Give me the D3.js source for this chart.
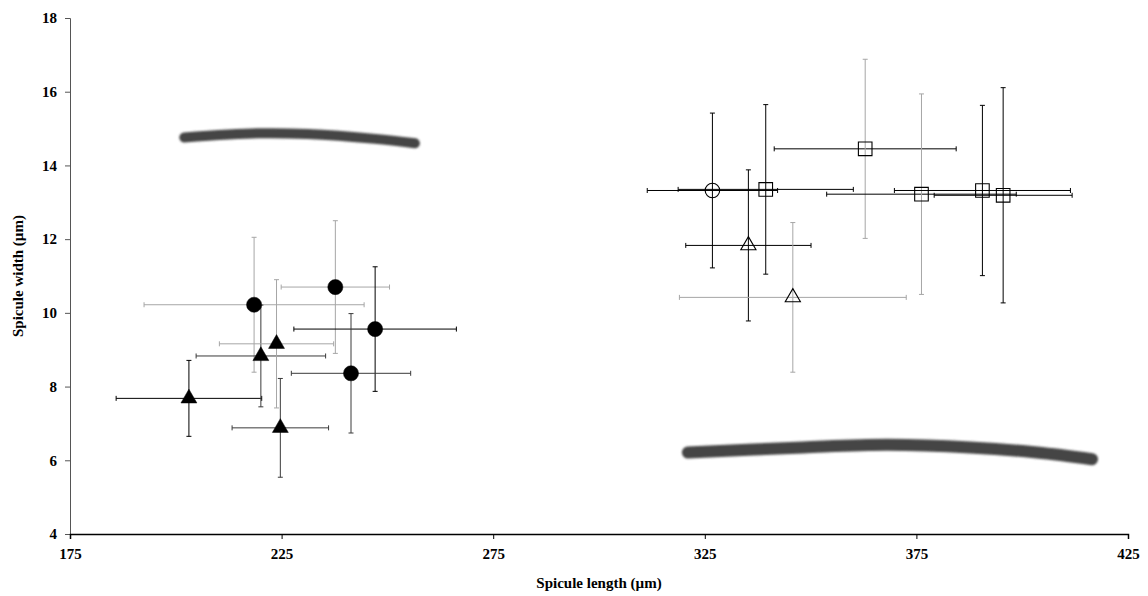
<!DOCTYPE html>
<html>
<head>
<meta charset="utf-8">
<script src="https://cdn.jsdelivr.net/npm/d3@7"></script>
<style>
	body { margin:0; background:#fff; }
	svg text { font-family:"Liberation Serif", "Times New Roman", serif; font-weight:bold; }
</style>
</head>
<body>
<svg id="chart" width="1148" height="596"></svg>
<script>

// tick values
var xTicks = [175, 225, 275, 325, 375, 425];
var yTicks = [4, 6, 8, 10, 12, 14, 16, 18];

// each point: x, y, x error, y error, batch (sets the error bar tone)
var filledCircles = [
	{x:218.5, y:10.22, xe:26.0, ye:1.83, batch:"b"},
	{x:237.7, y:10.70, xe:12.8, ye:1.80, batch:"b"},
	{x:247.1, y:9.56, xe:19.2, ye:1.69, batch:"a"},
	{x:241.4, y:8.36, xe:14.1, ye:1.62, batch:"c"}
];
var filledTriangles = [
	{x:203.1, y:7.68, xe:17.2, ye:1.03, batch:"a"},
	{x:220.1, y:8.83, xe:15.3, ye:1.38, batch:"c"},
	{x:223.8, y:9.16, xe:13.5, ye:1.74, batch:"b"},
	{x:224.7, y:6.88, xe:11.4, ye:1.34, batch:"c"}
];
var openCircles = [
	{x:326.8, y:13.32, xe:15.4, ye:2.10, batch:"a"}
];
var openTriangles = [
	{x:335.3, y:11.83, xe:14.8, ye:2.05, batch:"a"},
	{x:345.8, y:10.42, xe:26.8, ye:2.03, batch:"b"}
];
var openSquares = [
	{x:339.4, y:13.35, xe:20.7, ye:2.30, batch:"a"},
	{x:362.9, y:14.45, xe:21.5, ye:2.43, batch:"b", xbatch:"a"},
	{x:376.2, y:13.22, xe:22.4, ye:2.72, batch:"b", xbatch:"a"},
	{x:390.6, y:13.32, xe:20.8, ye:2.31, batch:"a"},
	{x:395.5, y:13.19, xe:16.3, ye:2.92, batch:"a"}
];

// spicule outlines traced in data units
var spiculeLong = [[202.0,14.76],[219.4,14.87],[231.2,14.85],[247.1,14.72],[256.5,14.60]];
var spiculeShort = [[321.0,6.21],[348.2,6.35],[368.1,6.42],[387.7,6.35],[403.5,6.21],[416.5,6.03]];

var svg = d3.select("#chart");
var margin = {left:70, right:20, top:18, bottom:62};
var W = 1148, H = 596;

var x = d3.scaleLinear().domain([175, 425]).range([margin.left, W - margin.right]);
var y = d3.scaleLinear().domain([4, 18]).range([H - margin.bottom, margin.top]);
var tone = d3.scaleOrdinal().domain(["a","b","c"]).range(["#000", "#a6a6a6", "#3a3a3a"]);

// spicule drawings
var spLine = d3.line()
	.x(function(d){ return x(d[0]); })
	.y(function(d){ return y(d[1]); })
	.curve(d3.curveCatmullRom);

var defs = svg.append("defs");
defs.append("filter").attr("id","soft")
	.attr("filterUnits","userSpaceOnUse")
	.attr("x",0).attr("y",0).attr("width",W).attr("height",H)
	.append("feGaussianBlur").attr("stdDeviation", 0.8);

svg.append("path").datum(spiculeLong)
	.attr("d", spLine)
	.attr("fill","none").attr("stroke","#444")
	.attr("stroke-width",10).attr("stroke-linecap","round")
	.attr("filter","url(#soft)");
svg.append("path").datum(spiculeShort)
	.attr("d", spLine)
	.attr("fill","none").attr("stroke","#444")
	.attr("stroke-width",12).attr("stroke-linecap","round")
	.attr("filter","url(#soft)");

// axes
var yAxis = svg.append("g")
	.attr("transform","translate(" + margin.left + ",0)")
	.call(d3.axisLeft(y).tickValues(yTicks).tickSize(5).tickFormat(d3.format("d")));
var xAxis = svg.append("g")
	.attr("transform","translate(0," + (H - margin.bottom) + ")")
	.call(d3.axisBottom(x).tickValues(xTicks).tickSize(5).tickFormat(d3.format("d")));

yAxis.select(".domain").attr("stroke","#555");
yAxis.selectAll(".tick line").attr("stroke","#555");
xAxis.select(".domain").attr("stroke","#000").attr("stroke-width",1.5);
[xAxis, yAxis].forEach(function(a){
	a.selectAll("text").attr("font-size",15).attr("fill","#000")
		.style("font-family","'Liberation Serif', serif").style("font-weight","bold");
});
yAxis.selectAll("text").attr("x",-13);
xAxis.selectAll("text").attr("y",14);

svg.append("text")
	.attr("transform","translate(23," + ((margin.top + H - margin.bottom) / 2) + ") rotate(-90)")
	.attr("text-anchor","middle")
	.attr("font-size",15)
	.text("Spicule width (µm)");
svg.append("text")
	.attr("x", (margin.left + W - margin.right) / 2)
	.attr("y", 588)
	.attr("text-anchor","middle")
	.attr("font-size",15)
	.text("Spicule length (µm)");

// error bars
var allPoints = filledCircles.concat(filledTriangles, openCircles, openTriangles, openSquares);
var cap = 2.5;
var bars = svg.append("g").attr("class","errorbars");

allPoints.forEach(function(d){
	var hc = tone(d.xbatch || d.batch), vc = tone(d.batch);
	var g = bars.append("g");
	// horizontal
	g.append("line").attr("x1",x(d.x - d.xe)).attr("x2",x(d.x + d.xe))
		.attr("y1",y(d.y)).attr("y2",y(d.y)).attr("stroke",hc);
	[d.x - d.xe, d.x + d.xe].forEach(function(v){
		g.append("line").attr("x1",x(v)).attr("x2",x(v))
			.attr("y1",y(d.y) - cap).attr("y2",y(d.y) + cap).attr("stroke",hc);
	});
	// vertical
	g.append("line").attr("x1",x(d.x)).attr("x2",x(d.x))
		.attr("y1",y(d.y - d.ye)).attr("y2",y(d.y + d.ye)).attr("stroke",vc);
	[d.y - d.ye, d.y + d.ye].forEach(function(v){
		g.append("line").attr("x1",x(d.x) - cap).attr("x2",x(d.x) + cap)
			.attr("y1",y(v)).attr("y2",y(v)).attr("stroke",vc);
	});
});

// markers
var sym = function(type, size){ return d3.symbol().type(type).size(size)(); };
var marks = svg.append("g").attr("class","markers");

function drawSet(data, type, size, filled){
	marks.selectAll(null)
		.data(data)
		.enter()
		.append("path")
		.attr("d", sym(type, size))
		.attr("transform", function(d){ return "translate(" + x(d.x) + "," + y(d.y) + ")"; })
		.attr("fill", filled ? "#000" : "none")
		.attr("stroke", "#000")
		.attr("stroke-width", filled ? 0.5 : 1.1);
}

drawSet(filledCircles, d3.symbolCircle, 180, true);
drawSet(filledTriangles, d3.symbolTriangle, 110, true);
drawSet(openCircles, d3.symbolCircle, 165, false);
drawSet(openTriangles, d3.symbolTriangle, 100, false);
drawSet(openSquares, d3.symbolSquare, 185, false);

</script>
</body>
</html>
